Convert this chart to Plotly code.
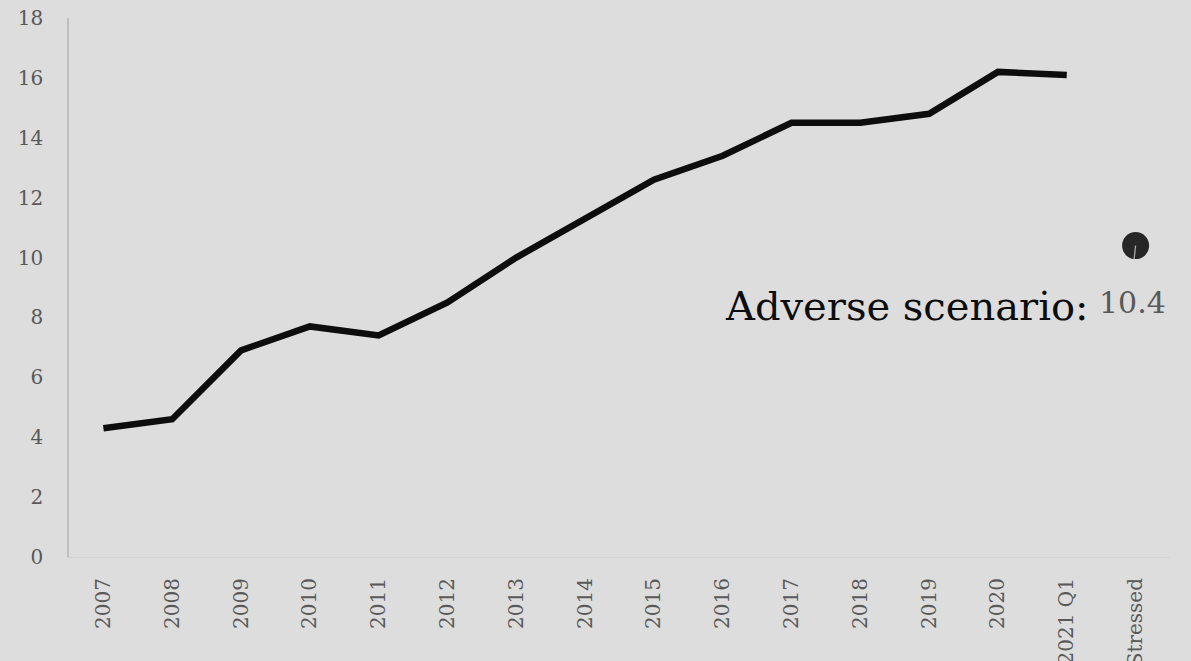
import plotly.graph_objects as go

# Ratio series by year, with the stressed-scenario endpoint shown separately
categories = ["2007", "2008", "2009", "2010", "2011", "2012", "2013", "2014",
              "2015", "2016", "2017", "2018", "2019", "2020", "2021 Q1", "Stressed"]
history_labels = categories[:-1]
history_values = [4.3, 4.6, 6.9, 7.7, 7.4, 8.5, 10.0, 11.3, 12.6, 13.4,
                  14.5, 14.5, 14.8, 16.2, 16.1]
stressed_label = "Stressed"
stressed_value = 10.4
scenario_name = "Adverse scenario:"
y_ticks = [0, 2, 4, 6, 8, 10, 12, 14, 16, 18]

FONT = "DejaVu Serif"
BG = "#dddddd"
TICK_COLOR = "#595959"

fig = go.Figure()

fig.add_trace(go.Scatter(
    x=history_labels, y=history_values, mode="lines",
    line=dict(color="#0d0d0d", width=6.5, shape="linear"),
    hoverinfo="skip", showlegend=False,
))

fig.add_trace(go.Scatter(
    x=[stressed_label], y=[stressed_value], mode="markers",
    marker=dict(color="#262626", size=27, line=dict(width=0)),
    hoverinfo="skip", showlegend=False,
))

# leader line from the stressed marker down to its label
fig.add_annotation(
    x=stressed_label, y=stressed_value, text=" ",
    showarrow=True, arrowhead=0, arrowwidth=1.3, arrowcolor="#a6a6a6",
    ax=-3, ay=27, standoff=0,
)

# value label under the marker
fig.add_annotation(
    x=stressed_label, y=stressed_value, text=f"{stressed_value}",
    showarrow=False, xanchor="right", yanchor="middle",
    xshift=32, yshift=-57,
    font=dict(family=FONT, size=30, color="#595959"),
)

# scenario name to the left of the value
fig.add_annotation(
    x=stressed_label, y=stressed_value, text=scenario_name,
    showarrow=False, xanchor="right", yanchor="middle",
    xshift=-46, yshift=-60,
    font=dict(family=FONT, size=40, color="#0d0d0d"),
)

fig.update_layout(
    width=1191, height=661,
    margin=dict(l=69, r=21, t=18, b=104, autoexpand=False),
    paper_bgcolor=BG, plot_bgcolor=BG,
    font=dict(family=FONT, size=20, color=TICK_COLOR),
    xaxis=dict(
        type="category", categoryorder="array", categoryarray=categories,
        range=[-0.5, len(categories) - 0.5], automargin=False,
        showgrid=False, zeroline=False,
        showline=True, linecolor="#d4d4d4", linewidth=1,
        tickangle=-90, ticks="", ticklabelstandoff=12,
        tickfont=dict(family=FONT, size=20, color=TICK_COLOR),
    ),
    yaxis=dict(
        range=[0, 18], tickvals=y_ticks, automargin=False,
        showgrid=False, zeroline=False,
        showline=True, linecolor="#bfbfbf", linewidth=1.5,
        ticks="", ticklabelstandoff=20,
        tickfont=dict(family=FONT, size=20, color=TICK_COLOR),
    ),
)

fig.write_html("out.html")
